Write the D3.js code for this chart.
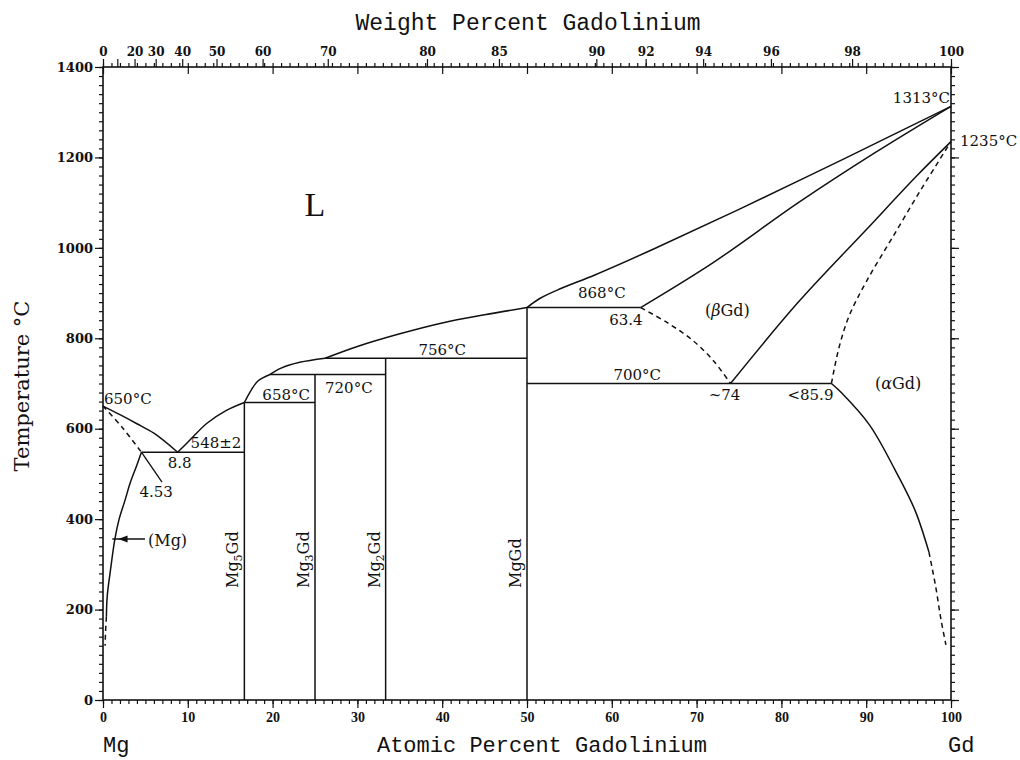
<!DOCTYPE html>
<html>
<head>
<meta charset="utf-8">
<script src="https://cdn.jsdelivr.net/npm/d3@7"></script>
<style>
  body { margin: 0; background: #fff; }
  svg { display: block; }
</style>
</head>
<body>
<svg id="chart" width="1020" height="760"></svg>
<script>
// ---- Mg–Gd phase diagram data (x = at.% Gd, T = °C) ----

// axis ticks
const atMajor = d3.range(0, 101, 10);
const atMinor = d3.range(0, 101, 1);
const tMajor = d3.range(0, 1401, 200);
const tMinor = d3.range(0, 1401, 20);
const wtTicks = [0, 10, 20, 30, 40, 50, 60, 70, 80, 85, 90, 92, 94, 96, 98, 100];
const wtLabelled = [0, 20, 30, 40, 50, 60, 70, 80, 85, 90, 92, 94, 96, 98, 100];

// atomic masses for the weight-percent scale
const massMg = 24.305;
const massGd = 157.25;

// liquidus branches
const liquidusMg = [[0, 650], [2, 631], [4, 611], [6, 590], [8.8, 548]];
const liquidusMg5Gd = [[8.8, 548], [10, 570], [12.26, 612], [14.5, 640], [16.67, 658]];
const liquidusMg3Gd = [[16.67, 658], [17.5, 686], [18.3, 706], [19.7, 720]];
const liquidusMg2Gd = [[19.7, 720], [21, 734], [23.2, 747], [26.2, 756]];
const liquidusMgGdLeft = [[26.2, 756], [30, 782], [35, 810], [40, 834], [45, 852], [50, 868]];
const liquidusGd = [[50, 868], [51.5, 888], [54, 910], [58, 940], [65, 998], [75, 1085], [87.5, 1198], [100, 1313]];

// solid-state boundaries
const solidusMgDashed = [[0, 650], [2.3, 602], [4.53, 548]];
const solvusMg = [[4.53, 548], [4.0, 520], [3.2, 480], [2.6, 442], [1.9, 400], [1.4, 356], [0.9, 290], [0.5, 230], [0.4, 184]];
const solvusMgDashed = [[0.4, 184], [0.3, 150], [0.25, 120]];
const solidusBetaGd = [[63.4, 868], [72, 968], [82, 1100], [91, 1210], [100, 1313]];
const betaLowDashed = [[63.4, 868], [66.5, 835], [69.5, 796], [72, 750], [74, 700]];
const transusBeta = [[74, 700], [82, 880], [90, 1040], [96, 1160], [100, 1235]];
const transusAlphaDashed = [[85.9, 700], [86.8, 780], [88, 850], [90, 925], [93, 1020], [96.5, 1130], [100, 1235]];
const solvusAlphaGd = [[85.9, 700], [87, 681], [90.4, 608], [93.4, 509], [95.75, 420], [97.4, 327]];
const solvusAlphaGdDashed = [[97.4, 327], [98.2, 250], [98.8, 180], [99.4, 122]];

// invariant isotherms: [T, from, to]
const isotherms = [
  [548, 4.53, 16.67],
  [658, 16.67, 25],
  [720, 19.7, 33.33],
  [756, 26.2, 50],
  [868, 50, 63.4],
  [700, 50, 85.9]
];

// intermetallic compounds: [at.% Gd, melting / decomposition T, subscript]
const compounds = [
  [16.67, 658, "5"],
  [25, 720, "3"],
  [33.33, 756, "2"],
  [50, 868, ""]
];

// ---- scales ----
const x = d3.scaleLinear().domain([0, 100]).range([103, 951]);
const y = d3.scaleLinear().domain([0, 1400]).range([700, 67]);
const atFromWt = w => {
  const a = w / massGd, b = (100 - w) / massMg;
  return 100 * a / (a + b);
};
const xWt = d3.scaleLinear().domain(wtTicks).range(wtTicks.map(w => x(atFromWt(w))));

const svg = d3.select("#chart");
const ink = "#111";

// ---- axes ----
function styleAxis(g, font, size, weight) {
  g.select(".domain").remove();
  g.selectAll(".tick line").attr("stroke", ink).attr("stroke-width", 1.2);
  g.selectAll(".tick text")
    .attr("fill", ink)
    .attr("font-family", font)
    .attr("font-size", size)
    .attr("font-weight", weight);
}

// bottom
svg.append("g").attr("transform", `translate(0,${y(0)})`)
  .call(d3.axisBottom(x).tickValues(atMinor).tickSize(4).tickFormat(""))
  .call(g => styleAxis(g));
svg.append("g").attr("transform", `translate(0,${y(0)})`)
  .call(d3.axisBottom(x).tickValues(atMajor).tickSize(8).tickPadding(4).tickFormat(d3.format("d")))
  .call(g => styleAxis(g, "Liberation Serif", 14, "bold"));

// left
svg.append("g").attr("transform", `translate(${x(0)},0)`)
  .call(d3.axisLeft(y).tickValues(tMinor).tickSize(4).tickFormat(""))
  .call(g => styleAxis(g));
svg.append("g").attr("transform", `translate(${x(0)},0)`)
  .call(d3.axisLeft(y).tickValues(tMajor).tickSize(8).tickPadding(2).tickFormat(d3.format("d")))
  .call(g => styleAxis(g, "DejaVu Serif", 13, "bold"));

// right (mirror)
svg.append("g").attr("transform", `translate(${x(100)},0)`)
  .call(d3.axisRight(y).tickValues(tMinor).tickSize(4).tickFormat(""))
  .call(g => styleAxis(g));
svg.append("g").attr("transform", `translate(${x(100)},0)`)
  .call(d3.axisRight(y).tickValues(tMajor).tickSize(8).tickFormat(""))
  .call(g => styleAxis(g));

// top: atomic-percent ticks plus weight-percent scale
svg.append("g").attr("transform", `translate(0,${y(1400)})`)
  .call(d3.axisTop(x).tickValues(atMinor).tickSize(4).tickFormat(""))
  .call(g => styleAxis(g));
svg.append("g").attr("transform", `translate(0,${y(1400)})`)
  .call(d3.axisBottom(x).tickValues(atMajor).tickSize(7).tickFormat(""))
  .call(g => styleAxis(g));
svg.append("g").attr("transform", `translate(0,${y(1400)})`)
  .call(d3.axisTop(xWt).tickValues(wtTicks).tickSize(8).tickPadding(3)
    .tickFormat(d => wtLabelled.includes(d) ? d3.format("d")(d) : ""))
  .call(g => styleAxis(g, "DejaVu Serif", 12, "bold"));

// frame
svg.append("rect")
  .attr("x", x(0)).attr("y", y(1400))
  .attr("width", x(100) - x(0)).attr("height", y(0) - y(1400))
  .attr("fill", "none").attr("stroke", ink).attr("stroke-width", 1.6);

// ---- phase boundaries ----
const curve = d3.line()
  .x(d => x(d[0])).y(d => y(d[1]))
  .curve(d3.curveCatmullRom.alpha(0.5));

const plot = svg.append("g").attr("fill", "none").attr("stroke", ink)
  .attr("stroke-width", 1.5).attr("stroke-linejoin", "round");

[liquidusMg, liquidusMg5Gd, liquidusMg3Gd, liquidusMg2Gd, liquidusMgGdLeft, liquidusGd,
 solvusMg, solidusBetaGd, transusBeta, solvusAlphaGd]
  .forEach(p => plot.append("path").attr("d", curve(p)));

[solidusMgDashed, solvusMgDashed, betaLowDashed, transusAlphaDashed, solvusAlphaGdDashed]
  .forEach(p => plot.append("path").attr("d", curve(p)).attr("stroke-dasharray", "5,4"));

// isotherms
plot.selectAll("line.iso").data(isotherms).join("line").attr("class", "iso")
  .attr("x1", d => x(d[1])).attr("x2", d => x(d[2]))
  .attr("y1", d => y(d[0])).attr("y2", d => y(d[0]));

// compound lines
plot.selectAll("line.cmp").data(compounds).join("line").attr("class", "cmp")
  .attr("x1", d => x(d[0])).attr("x2", d => x(d[0]))
  .attr("y1", y(0)).attr("y2", d => y(d[1]));

// compound names
const cmpText = svg.append("g").attr("fill", ink)
  .attr("font-family", "DejaVu Serif").attr("font-size", 16);
compounds.forEach(c => {
  const t = cmpText.append("text")
    .attr("transform", `translate(${x(c[0]) - 6},588) rotate(-90)`);
  t.append("tspan").text("Mg");
  if (c[2]) {
    t.append("tspan").attr("dy", 4).attr("font-size", 11).text(c[2]);
    t.append("tspan").attr("dy", -4).text("Gd");
  } else {
    t.append("tspan").text("Gd");
  }
});

// ---- annotations ----
const notes = svg.append("g").attr("fill", ink)
  .attr("font-family", "DejaVu Serif").attr("font-size", 15);
const note = (text, px, py, anchor) =>
  notes.append("text").attr("x", px).attr("y", py)
    .attr("text-anchor", anchor || "start").text(text);

note("650°C", x(0) + 1, y(650) - 2);
note("548±2", x(16.67) - 3, y(548) - 4, "end");
note("8.8", x(8.8) + 2, y(548) + 16, "middle");
note("4.53", x(4.53) - 2, y(548) + 45);
note("658°C", x(16.67) + 18, y(658) - 2);
note("720°C", x(25) + 10, y(720) + 19);
note("756°C", x(40), y(756) - 3, "middle");
note("868°C", x(50) + 51, y(868) - 10);
note("63.4", x(63.4) + 2, y(868) + 17, "end");
note("700°C", x(63), y(700) - 4, "middle");
note("~74", x(74) - 6, y(700) + 16.5, "middle");
note("<85.9", x(85.9) + 2, y(700) + 16.5, "end");
note("1313°C", x(100) - 1, y(1313) - 3, "end");
note("1235°C", x(100) + 9, y(1235) + 4);

// leader to the (Mg) eutectic solubility
plot.append("line")
  .attr("x1", x(4.53)).attr("y1", y(548))
  .attr("x2", x(6.96)).attr("y2", y(482)).attr("stroke-width", 1.3);

// phase field names
const phase = svg.append("g").attr("fill", ink)
  .attr("font-family", "DejaVu Serif").attr("font-size", 16);
const pB = phase.append("text").attr("x", 705).attr("y", 316);
pB.append("tspan").text("(");
pB.append("tspan").attr("font-style", "italic").text("β");
pB.append("tspan").text("Gd)");
const pA = phase.append("text").attr("x", 875).attr("y", 389);
pA.append("tspan").text("(");
pA.append("tspan").attr("font-style", "italic").text("α");
pA.append("tspan").text("Gd)");
phase.append("text").attr("x", 148).attr("y", 546).text("(Mg)");
phase.append("text").attr("x", 315).attr("y", 216)
  .attr("text-anchor", "middle").attr("font-family", "Liberation Serif")
  .attr("font-size", 34).text("L");

// (Mg) arrow
const arrowT = 356;
plot.append("line")
  .attr("x1", x(1.1)).attr("x2", x(4.95))
  .attr("y1", y(arrowT)).attr("y2", y(arrowT)).attr("stroke-width", 1.4);
svg.append("path")
  .attr("d", `M${x(1.8)},${y(arrowT)} L${x(2.9)},${y(arrowT) - 3.5} L${x(2.9)},${y(arrowT) + 3.5} Z`)
  .attr("fill", ink);

// ---- axis titles ----
const titleFont = "Liberation Mono";
svg.append("text").attr("x", 528).attr("y", 30).attr("text-anchor", "middle")
  .attr("font-family", titleFont).attr("font-size", 23).attr("fill", ink)
  .text("Weight Percent Gadolinium");
svg.append("text").attr("x", 542).attr("y", 752).attr("text-anchor", "middle")
  .attr("font-family", titleFont).attr("font-size", 22).attr("fill", ink)
  .text("Atomic Percent Gadolinium");
svg.append("text").attr("x", 103).attr("y", 752)
  .attr("font-family", titleFont).attr("font-size", 22).attr("fill", ink).text("Mg");
svg.append("text").attr("x", 948).attr("y", 752)
  .attr("font-family", titleFont).attr("font-size", 22).attr("fill", ink).text("Gd");
svg.append("text")
  .attr("transform", "translate(29,386) rotate(-90)")
  .attr("text-anchor", "middle")
  .attr("font-family", "DejaVu Serif").attr("font-size", 21).attr("fill", ink)
  .text("Temperature °C");
</script>
</body>
</html>
